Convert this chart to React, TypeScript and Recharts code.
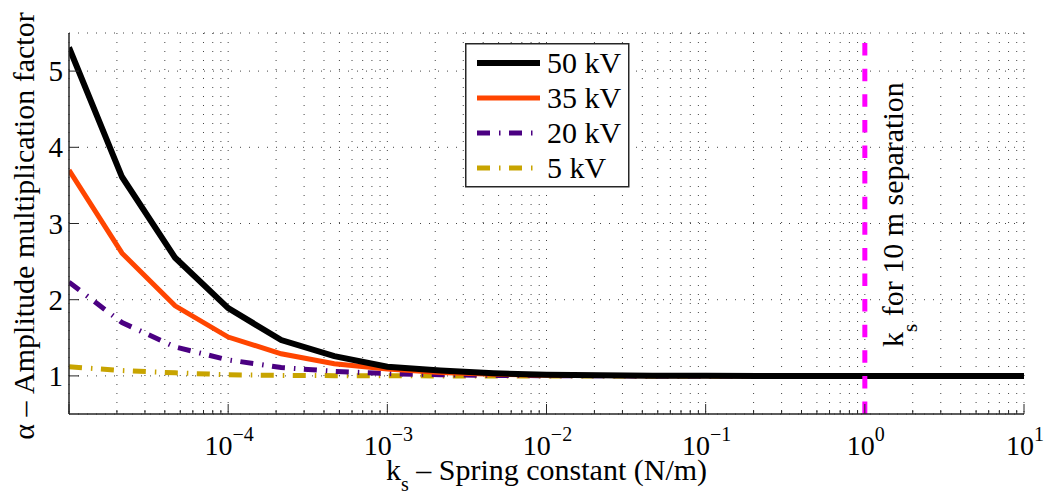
import { LineChart, Line, XAxis, YAxis, CartesianGrid, ReferenceLine, Legend } from "recharts";

// spring constant samples (N/m), 3 per decade
const ks = [
  1e-5, 2.154e-5, 4.642e-5, 1e-4, 2.154e-4, 4.642e-4, 1e-3, 2.154e-3, 4.642e-3, 1e-2,
  2.154e-2, 4.642e-2, 1e-1, 2.154e-1, 4.642e-1, 1, 2.154, 4.642, 10,
];

// amplitude multiplication factor per voltage
const alpha50 = [5.31, 3.61, 2.55, 1.89, 1.47, 1.26, 1.12, 1.07, 1.035, 1.015, 1.007, 1.003, 1.001, 1, 1, 1, 1, 1, 1];
const alpha35 = [3.7, 2.61, 1.92, 1.51, 1.29, 1.16, 1.09, 1.045, 1.02, 1.01, 1.004, 1.002, 1.001, 1, 1, 1, 1, 1, 1];
const alpha20 = [2.23, 1.7, 1.38, 1.21, 1.11, 1.06, 1.03, 1.015, 1.006, 1.003, 1.001, 1, 1, 1, 1, 1, 1, 1, 1];
const alpha5 = [1.12, 1.07, 1.04, 1.015, 1.007, 1.003, 1.001, 1, 1, 1, 1, 1, 1, 1, 1, 1, 1, 1, 1];

const xMajor = [1e-4, 1e-3, 1e-2, 1e-1, 1, 10];
const xMajorExp = ["\u22124", "\u22123", "\u22122", "\u22121", "0", "1"];
const yTicks = [1, 2, 3, 4, 5];

const separationK = 1;

const FONT = "Liberation Serif, Times New Roman, Times, DejaVu Serif, serif";
const AXIS = "#262626";

// minor + major tick positions for the log axis
const xTicks: number[] = [];
for (let d = -5; d <= 0; d++) {
  for (let m = 1; m <= 9; m++) xTicks.push(m * Math.pow(10, d));
}
xTicks.push(10);

const data = ks.map((k, i) => ({
  k,
  v50: alpha50[i],
  v35: alpha35[i],
  v20: alpha20[i],
  v5: alpha5[i],
}));

const series = [
  { key: "v50", name: "50 kV", color: "#000000", width: 6, dash: undefined as string | undefined },
  { key: "v35", name: "35 kV", color: "#ff4500", width: 5, dash: undefined as string | undefined },
  { key: "v20", name: "20 kV", color: "#4b0082", width: 5, dash: "13 9 1.5 8.5" },
  { key: "v5", name: "5 kV", color: "#c8a400", width: 5, dash: "13 9 1.5 8.5" },
];

const textStyle = { fontFamily: FONT };

const majorIndex = (v: number) => xMajor.findIndex((m) => Math.abs(m - v) / m < 1e-6);

function BottomTick({ x, y, payload }: any) {
  const i = majorIndex(payload.value);
  const isMajor = i >= 0 || Math.abs(payload.value - 1e-5) < 1e-12;
  return (
    <g>
      <line x1={x} y1={y} x2={x} y2={y - (isMajor ? 10 : 4)} stroke={AXIS} strokeWidth={1} />
      {i >= 0 && (
        <text x={x + 1} y={y + 41} textAnchor="middle" style={textStyle} fontSize={28} fill="#000">
          10
          <tspan dy={-14} fontSize={20}>{xMajorExp[i]}</tspan>
        </text>
      )}
    </g>
  );
}

function TopTick({ x, y, payload }: any) {
  const isMajor = majorIndex(payload.value) >= 0;
  return <line x1={x} y1={y} x2={x} y2={y + (isMajor ? 10 : 4)} stroke={AXIS} strokeWidth={1} />;
}

function LeftTick({ x, y, payload }: any) {
  return (
    <g>
      <line x1={x} y1={y} x2={x + 10} y2={y} stroke={AXIS} strokeWidth={1} />
      <text x={x - 6} y={y + 10} textAnchor="end" style={textStyle} fontSize={29} fill="#000">
        {payload.value}
      </text>
    </g>
  );
}

function RightTick({ x, y }: any) {
  return <line x1={x} y1={y} x2={x - 10} y2={y} stroke={AXIS} strokeWidth={1} />;
}

function XLabel({ viewBox }: any) {
  const cx = viewBox.x + viewBox.width / 2;
  return (
    <text x={cx} y={480} textAnchor="middle" style={textStyle} fontSize={30} fill="#000">
      k<tspan dy={11} fontSize={20}>s</tspan>
      <tspan dy={-11}> {"\u2013"} Spring constant (N/m)</tspan>
    </text>
  );
}

function YLabel() {
  return (
    <text
      x={34}
      y={226}
      transform="rotate(-90 34 226)"
      textAnchor="middle"
      style={textStyle}
      fontSize={30}
      fill="#000"
    >
      {"\u03b1 \u2013 Amplitude multiplication factor"}
    </text>
  );
}

function SepLabel({ viewBox }: any) {
  const x = viewBox.x + 38;
  const y = viewBox.y + viewBox.height - 67;
  return (
    <text x={x} y={y} transform={`rotate(-90 ${x} ${y})`} style={textStyle} fontSize={30} fill="#000">
      k<tspan dy={14} fontSize={21}>s</tspan>
      <tspan dy={-14}> for 10 m separation</tspan>
    </text>
  );
}

function LegendBox() {
  return (
    <svg width={165} height={145} style={{ display: "block" }}>
      <rect x={0.75} y={0.75} width={163} height={143} fill="#fff" stroke={AXIS} strokeWidth={1.5} />
      {series.map((s, i) => {
        const cy = 20 + i * 35;
        return (
          <g key={s.key}>
            <line x1={12} x2={75} y1={cy} y2={cy} stroke={s.color} strokeWidth={s.width} strokeDasharray={s.dash} />
            <text x={82} y={cy + 10} style={textStyle} fontSize={30} fill="#000">
              {s.name}
            </text>
          </g>
        );
      })}
    </svg>
  );
}

export default function App() {
  return (
    <div style={{ position: "absolute", left: 0, top: 0, width: 1045, height: 498, background: "#fff", fontFamily: FONT }}>
      <LineChart width={1045} height={498} data={data} margin={{ top: 33, right: 21, bottom: 24, left: 9 }}>
        <CartesianGrid stroke="#444" strokeDasharray="1 8" strokeWidth={1} />
        <XAxis
          dataKey="k"
          type="number"
          scale="log"
          domain={[1e-5, 10]}
          allowDataOverflow
          ticks={xTicks}
          interval={0}
          height={60}
          tickSize={0}
          tickMargin={0}
          tick={<BottomTick />}
          axisLine={{ stroke: AXIS, strokeWidth: 1.5 }}
          label={<XLabel />}
        />
        <XAxis
          xAxisId="top"
          orientation="top"
          dataKey="k"
          type="number"
          scale="log"
          domain={[1e-5, 10]}
          allowDataOverflow
          ticks={xTicks}
          interval={0}
          height={0}
          tickSize={0}
          tickMargin={0}
          tick={<TopTick />}
          axisLine={{ stroke: AXIS, strokeWidth: 1.5 }}
        />
        <YAxis
          type="number"
          domain={[0.5, 5.5]}
          allowDataOverflow
          ticks={yTicks}
          interval={0}
          width={60}
          tickSize={0}
          tickMargin={0}
          tick={<LeftTick />}
          axisLine={{ stroke: AXIS, strokeWidth: 1.5 }}
          label={<YLabel />}
        />
        <YAxis
          yAxisId="right"
          orientation="right"
          type="number"
          domain={[0.5, 5.5]}
          allowDataOverflow
          ticks={yTicks}
          interval={0}
          width={0}
          tickSize={0}
          tickMargin={0}
          tick={<RightTick />}
          axisLine={{ stroke: AXIS, strokeWidth: 1.5 }}
        />
        {[...series].reverse().map((s) => (
          <Line
            key={s.key}
            dataKey={s.key}
            name={s.name}
            type="linear"
            stroke={s.color}
            strokeWidth={s.width}
            strokeDasharray={s.dash}
            strokeLinejoin="miter"
            dot={false}
            activeDot={false}
            isAnimationActive={false}
          />
        ))}
        <ReferenceLine
          x={separationK}
          stroke="#ff00ff"
          strokeWidth={5}
          strokeDasharray="12.5 13.1"
          label={<SepLabel />}
        />
        <Legend
          layout="vertical"
          align="center"
          verticalAlign="middle"
          wrapperStyle={{ left: 465, top: 43, width: 165, height: 145 }}
          content={() => <LegendBox />}
        />
      </LineChart>
    </div>
  );
}
